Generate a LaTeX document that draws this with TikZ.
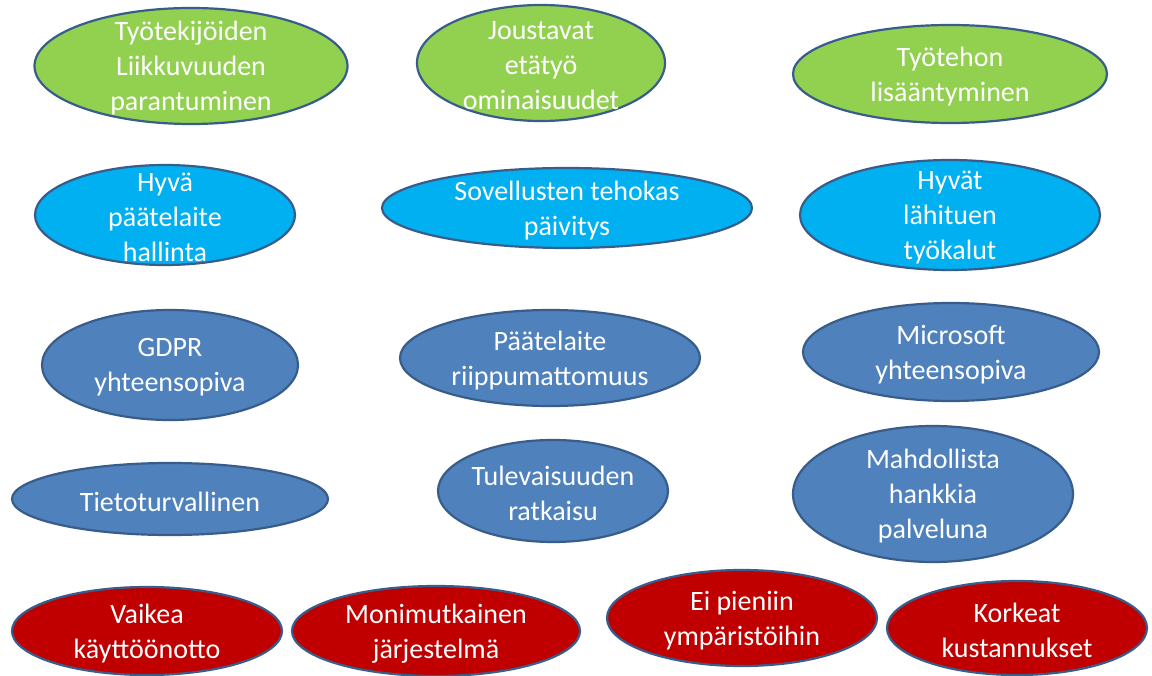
\documentclass[tikz,border=0pt]{standalone}
\usepackage{fontspec}
\setmainfont{Carlito}
\usetikzlibrary{shapes.geometric}
\definecolor{plusgreen}{HTML}{92D050}
\definecolor{lightblue}{HTML}{00B0F0}
\definecolor{steelblue}{HTML}{4F81BD}
\definecolor{minusred}{HTML}{C00000}
\definecolor{rimblue}{HTML}{385D8A}

\tikzset{
    blob/.style={ellipse, draw=rimblue, line width=2.2pt, inner sep=0pt},
    txt/.style={text=white, align=center, yshift=-2.5pt, font=\fontsize{28}{35}\selectfont},
}

\begin{document}
\begin{tikzpicture}[x=1pt,y=-1pt]
    \useasboundingbox[fill=white] (0,0) rectangle (1152,676);
    %Benefits
    \node[blob, fill=plusgreen, minimum width=313pt, minimum height=116pt, label={[txt]center:Työtekijöiden\\Liikkuvuuden\\parantuminen}] (liikkuvuus) at (191,66) {};
    \node[blob, fill=plusgreen, minimum width=248pt, minimum height=116pt, label={[txt]center:Joustavat\\etätyö\\ominaisuudet}] (etatyo) at (541,63) {};
    \node[blob, fill=plusgreen, minimum width=314pt, minimum height=98pt, label={[txt]center:Työtehon\\lisääntyminen}] (tyoteho) at (950,74) {};
    %Tools
    \node[blob, fill=lightblue, minimum width=260pt, minimum height=100pt, label={[txt]center:Hyvä\\päätelaite\\hallinta}] (hallinta) at (165,215) {};
    \node[blob, fill=lightblue, minimum width=370pt, minimum height=80pt, label={[txt]center:Sovellusten tehokas\\päivitys}] (paivitys) at (567,208) {};
    \node[blob, fill=lightblue, minimum width=300pt, minimum height=110pt, label={[txt]center:Hyvät\\lähituen\\työkalut}] (lahituki) at (950,215) {};
    %Requirements
    \node[blob, fill=steelblue, minimum width=256pt, minimum height=110pt, label={[txt]center:GDPR\\yhteensopiva}] (gdpr) at (170,365) {};
    \node[blob, fill=steelblue, minimum width=300pt, minimum height=96pt, label={[txt]center:Päätelaite\\riippumattomuus}] (riippumaton) at (550,358) {};
    \node[blob, fill=steelblue, minimum width=296pt, minimum height=98pt, label={[txt]center:Microsoft\\yhteensopiva}] (microsoft) at (951,352) {};
    \node[blob, fill=steelblue, minimum width=316pt, minimum height=72pt, label={[txt]center:Tietoturvallinen}] (tietoturva) at (170,499) {};
    \node[blob, fill=steelblue, minimum width=230pt, minimum height=102pt, label={[txt]center:Tulevaisuuden\\ratkaisu}] (tulevaisuus) at (553,491) {};
    \node[blob, fill=steelblue, minimum width=280pt, minimum height=136pt, label={[txt]center:Mahdollista\\hankkia\\palveluna}] (palvelu) at (933,494) {};
    %Drawbacks
    \node[blob, fill=minusred, minimum width=270pt, minimum height=88pt, label={[txt]center:Vaikea\\käyttöönotto}] (kayttoonotto) at (147,631) {};
    \node[blob, fill=minusred, minimum width=288pt, minimum height=90pt, label={[txt]center:Monimutkainen\\järjestelmä}] (monimutkainen) at (436,631) {};
    \node[blob, fill=minusred, minimum width=270pt, minimum height=96pt, label={[txt]center:Ei pieniin\\ympäristöihin}] (pienet) at (742,618) {};
    \node[blob, fill=minusred, minimum width=260pt, minimum height=94pt, label={[txt]center:Korkeat\\kustannukset}] (kustannukset) at (1017,628) {};
\end{tikzpicture}
\end{document}
